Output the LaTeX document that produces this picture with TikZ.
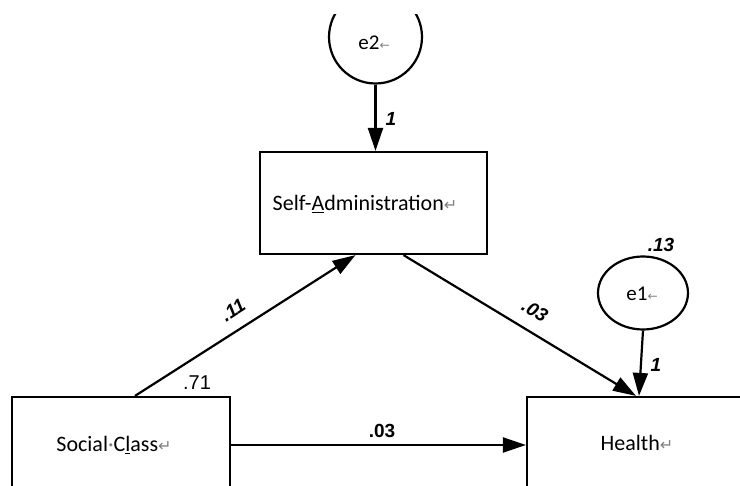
\documentclass[tikz,border=0pt]{standalone}
\usepackage{fontspec}
\setmainfont{Carlito}
\newfontfamily\arialf{Liberation Sans}
\newfontfamily\dejavu{DejaVu Sans}
\usetikzlibrary{arrows.meta,shapes.geometric}
\newcommand{\retmark}{{\dejavu\color{gray}\fontsize{16}{16}\selectfont ↵}}
\newcommand{\spmark}{{\color{gray}\textperiodcentered}}
\tikzset{
  box/.style={draw, line width=2.2pt, fill=white, inner sep=0pt},
  errc/.style={draw, line width=2.2pt, ellipse, fill=white, inner sep=0pt},
  conn/.style={line width=2.2pt, -{Triangle[length=23pt,width=15pt]}},
  vtext/.style={font=\fontsize{22}{26}\selectfont, inner sep=0pt},
  etext/.style={font=\fontsize{21}{24}\selectfont, inner sep=0pt},
  coef/.style={font=\arialf\fontsize{20}{22}\selectfont, inner sep=0pt},
  coefb/.style={font=\arialf\bfseries\fontsize{19}{21}\selectfont, inner sep=0pt},
  coefi/.style={font=\arialf\bfseries\itshape\fontsize{19}{21}\selectfont, inner sep=0pt}
}
\begin{document}
\begin{tikzpicture}[x=1pt,y=-1pt]
\clip (0,0) rectangle (740,486);
\fill[white] (0,0) rectangle (740,486);
% boxes
\node[box, minimum width=227pt, minimum height=102pt] (sa) at (373.5,203) {};
\node[box, minimum width=218pt, minimum height=120pt] (sc) at (121,457) {};
\node[box, minimum width=220pt, minimum height=120pt] (h) at (637,457) {};
% error terms
\begin{scope}
\clip (0,15) rectangle (740,486);
\node[errc, minimum width=93pt, minimum height=93pt] (e2) at (375.5,37) {};
\end{scope}
\node[errc, minimum width=90pt, minimum height=73pt] (e1) at (643,293) {};
% texts
\node[vtext] (sat) at (365,204) {Self-\underline{A}dministration\retmark};
\node[vtext] (sct) at (114,445) {Social\spmark C\underline{l}ass\retmark};
\node[vtext] (ht) at (637,443) {Health\retmark};
\node[etext] (e2t) at (374,43) {e2{\dejavu\color{gray}\fontsize{12}{12}\selectfont ←}};
\node[etext] (e1t) at (642,294) {e1{\dejavu\color{gray}\fontsize{12}{12}\selectfont ←}};
% connectors
\draw[conn] (e2.south) -- (e2.south |- sa.north);
\draw[conn] (e1.south) -- ([xshift=2pt]h.north);
\draw[conn] ([xshift=14pt]sc.north) -- ([xshift=-18pt]sa.south);
\draw[conn] ([xshift=30pt]sa.south) -- ([xshift=-1pt]h.north);
\draw[conn] ([yshift=12pt]sc.east) -- ([yshift=12pt]h.west);
% coefficients
\node[coefi] (l1a) at (391,119) {1};
\node[coefi] (l1b) at (656,365) {1};
\node[coefi] (l13) at (661,245) {.13};
\node[coefi, rotate=33] (l11) at (233,310) {.11};
\node[coef] (l71) at (197,383) {.71};
\node[coefi, rotate=-31] (l03a) at (535,311) {.03};
\node[coefb] (l03b) at (382,431) {.03};
\end{tikzpicture}
\end{document}
